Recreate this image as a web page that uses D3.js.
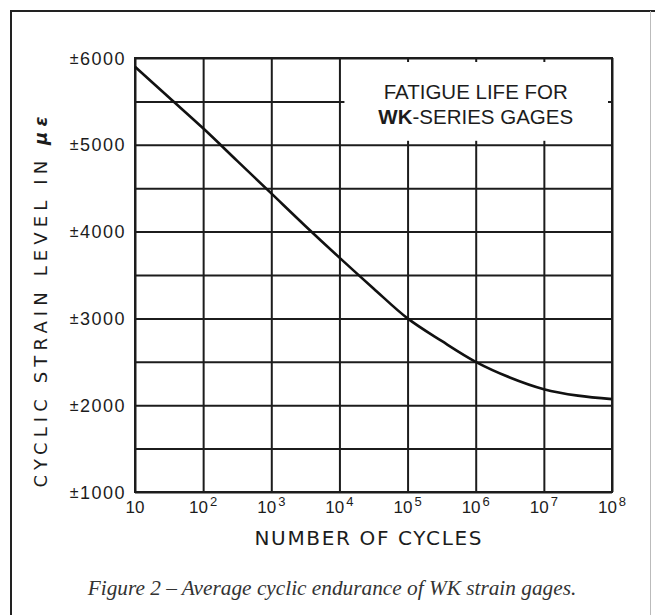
<!DOCTYPE html>
<html>
<head>
<meta charset="utf-8">
<script src="https://cdn.jsdelivr.net/npm/d3@7"></script>
<style>
  body { margin: 0; background: #fff; }
  svg { display: block; }
</style>
</head>
<body>
<svg id="chart"></svg>
<script>
// number of cycles (log axis) and strain level
var cycles = [10, 31.6, 100, 316, 1000, 3160, 1e4, 3.16e4, 1e5, 3.16e5, 1e6, 3.16e6, 1e7, 3.16e7, 1e8];
var strain = [5900, 5545, 5190, 4815, 4440, 4065, 3700, 3345, 3000, 2740, 2500, 2320, 2185, 2110, 2070];

var xTicks = [10, 1e2, 1e3, 1e4, 1e5, 1e6, 1e7, 1e8];
var xTickExp = ["", "2", "3", "4", "5", "6", "7", "8"];
var yGrid = [1000, 1500, 2000, 2500, 3000, 3500, 4000, 4500, 5000, 5500, 6000];
var yTicks = [1000, 2000, 3000, 4000, 5000, 6000];

var data = cycles.map(function(c, i) { return { n: c, v: strain[i] }; });

var W = 655, H = 615;
var margin = { top: 58, left: 135, right: 43, bottom: 123 };
var width = W - margin.left - margin.right;
var height = H - margin.top - margin.bottom;

var svg = d3.select("#chart").attr("width", W).attr("height", H);

// outer frame
svg.append("path")
  .attr("d", "M11,616 L11,11 L656,11")
  .attr("fill", "none")
  .attr("stroke", "#222")
  .attr("stroke-width", 2);
svg.append("line")
  .attr("x1", 650.5).attr("x2", 650.5).attr("y1", 11).attr("y2", 615)
  .attr("stroke", "#bbb").attr("stroke-width", 1);

var g = svg.append("g")
  .attr("transform", "translate(" + margin.left + "," + margin.top + ")");

var x = d3.scaleLog().domain([10, 1e8]).range([0, width]);
var y = d3.scaleLinear().domain([1000, 6000]).range([height, 0]);

// grid
var gx = g.append("g")
  .attr("transform", "translate(0," + height + ")")
  .call(d3.axisBottom(x).tickValues(xTicks).tickSize(-height).tickFormat(""));
var gy = g.append("g")
  .call(d3.axisLeft(y).tickValues(yGrid).tickSize(-width).tickFormat(""));
[gx, gy].forEach(function(a) {
  a.select(".domain").remove();
  a.selectAll(".tick line").attr("stroke", "#1c1c1c").attr("stroke-width", 2);
});

g.append("rect")
  .attr("width", width).attr("height", height)
  .attr("fill", "none").attr("stroke", "#1c1c1c").attr("stroke-width", 2);

// legend box blanks out the upper right grid
var bx0 = x(1e4) + 5, bx1 = x(1e8) - 4, by0 = y(6000) + 4, by1 = y(5000) - 4;
g.append("rect")
  .attr("x", bx0).attr("y", by0)
  .attr("width", bx1 - bx0).attr("height", by1 - by0)
  .attr("fill", "#fff");

var lx = (x(1e4) + x(1e8)) / 2;
g.append("text")
  .attr("x", lx).attr("y", 40.5)
  .attr("text-anchor", "middle")
  .style("font-family", "Liberation Sans, Arial, sans-serif")
  .style("font-size", "20.5px")
  .attr("fill", "#1c1c1c")
  .text("FATIGUE LIFE FOR");
var l2 = g.append("text")
  .attr("x", lx).attr("y", 65.5)
  .attr("text-anchor", "middle")
  .style("font-family", "Liberation Sans, Arial, sans-serif")
  .style("font-size", "20.5px")
  .attr("fill", "#1c1c1c");
l2.append("tspan").style("font-weight", "bold").text("WK");
l2.append("tspan").text("-SERIES GAGES");

// curve
var line = d3.line()
  .x(function(d) { return x(d.n); })
  .y(function(d) { return y(d.v); })
  .curve(d3.curveCatmullRom.alpha(0.5));

g.append("path")
  .datum(data)
  .attr("fill", "none")
  .attr("stroke", "#111")
  .attr("stroke-width", 2.6)
  .attr("d", line);

// y tick labels
g.selectAll(".ylab")
  .data(yTicks)
  .enter()
  .append("text")
  .attr("class", "ylab")
  .attr("x", -9)
  .attr("y", function(d) { return y(d) + 6.5; })
  .attr("text-anchor", "end")
  .style("font-family", "Liberation Sans, Arial, sans-serif")
  .style("font-size", "18px")
  .style("letter-spacing", "1.5px")
  .attr("fill", "#1c1c1c")
  .each(function(d) {
    var t = d3.select(this);
    t.append("tspan").style("font-size", "16px").attr("dy", -1).attr("dx", 0).text("\u00b1");
    t.append("tspan").attr("dy", 1).text(d);
  });

// x tick labels
g.selectAll(".xlab")
  .data(xTicks)
  .enter()
  .append("text")
  .attr("class", "xlab")
  .attr("x", function(d) { return x(d); })
  .attr("y", height + 21)
  .attr("text-anchor", "middle")
  .style("font-family", "Liberation Sans, Arial, sans-serif")
  .style("font-size", "17px")
  .attr("fill", "#1c1c1c")
  .each(function(d, i) {
    var t = d3.select(this);
    t.append("tspan").text("10");
    if (xTickExp[i]) {
      t.append("tspan").attr("dx", 2).attr("dy", -7).style("font-size", "13px").text(xTickExp[i]);
    }
  });

// axis titles
svg.append("text")
  .attr("x", 368).attr("y", 545)
  .attr("text-anchor", "middle")
  .attr("textLength", 227)
  .attr("lengthAdjust", "spacing")
  .style("font-family", "DejaVu Sans, sans-serif")
  .style("font-size", "20px")
  .attr("fill", "#1c1c1c")
  .text("NUMBER  OF  CYCLES");

var yt = svg.append("text")
  .attr("transform", "translate(47,302) rotate(-90)")
  .attr("text-anchor", "middle")
  .attr("textLength", 371)
  .attr("lengthAdjust", "spacing")
  .style("font-family", "DejaVu Sans, sans-serif")
  .style("font-size", "18px")
  .attr("fill", "#1c1c1c");
yt.append("tspan").text("CYCLIC  STRAIN  LEVEL  IN  ");
yt.append("tspan").style("font-style", "italic").style("font-weight", "bold").text("\u03bc\u03b5");

// caption
svg.append("text")
  .attr("x", 332).attr("y", 595)
  .attr("text-anchor", "middle")
  .style("font-family", "Liberation Serif, Times New Roman, serif")
  .style("font-style", "italic")
  .style("font-size", "21.3px")
  .attr("fill", "#333")
  .text("Figure 2 \u2013 Average cyclic endurance of WK strain gages.");
</script>
</body>
</html>
